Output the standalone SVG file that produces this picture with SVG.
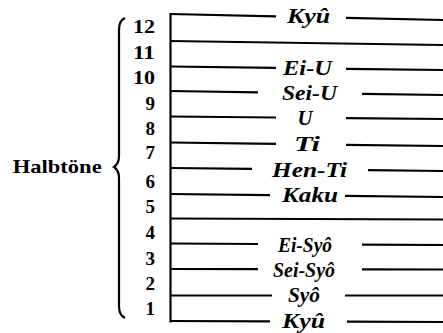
<svg xmlns="http://www.w3.org/2000/svg" width="443" height="333" viewBox="0 0 443 333">
<style>
.num{font-weight:bold;font-size:19px;fill:#000;text-anchor:end}
.lbl{font-weight:bold;font-style:italic;font-size:20px;fill:#000;text-anchor:middle}
.ttl{font-weight:bold;font-size:19px;fill:#000}
.ln{stroke:#000;stroke-width:2.2;fill:none}
</style>
<rect width="443" height="333" fill="#fff"/>
<g id="title" font-family="'Liberation Serif', 'Times New Roman', serif"><text class="ttl" x="12.7" y="173" textLength="89" lengthAdjust="spacingAndGlyphs">Halbtöne</text></g>
<g id="brace"><path class="ln" stroke-width="2" d="M125,18 C120,20 119,24 119,30 L119,156 C119,162 117,165 114,167 C117,169 119,172 119,178 L119,306 C119,312 120,316 125,318"/></g>
<g id="numbers" font-family="'Liberation Serif', 'Times New Roman', serif">
<text class="num" x="155" y="33" textLength="22" lengthAdjust="spacingAndGlyphs">12</text>
<text class="num" x="155" y="58.5" textLength="22" lengthAdjust="spacingAndGlyphs">11</text>
<text class="num" x="155" y="84" textLength="22" lengthAdjust="spacingAndGlyphs">10</text>
<text class="num" x="155" y="110">9</text>
<text class="num" x="155" y="135">8</text>
<text class="num" x="155" y="158.5">7</text>
<text class="num" x="155" y="188">6</text>
<text class="num" x="155" y="213">5</text>
<text class="num" x="155" y="238.5">4</text>
<text class="num" x="155" y="265">3</text>
<text class="num" x="155" y="290">2</text>
<text class="num" x="155" y="315">1</text>
</g>
<g id="connectors">
<line class="ln" x1="170.5" y1="13" x2="170.5" y2="322.5" stroke-width="2.5"/>
<line class="ln" x1="170" y1="14" x2="276" y2="16.3"/><line class="ln" x1="346" y1="17.9" x2="443" y2="20"/>
<line class="ln" x1="170" y1="41" x2="443" y2="45"/>
<line class="ln" x1="170" y1="66.5" x2="276" y2="67.9"/><line class="ln" x1="346" y1="68.8" x2="443" y2="70"/>
<line class="ln" x1="170" y1="91" x2="258" y2="92.3"/><line class="ln" x1="362" y1="93.8" x2="443" y2="95"/>
<line class="ln" x1="170" y1="116.5" x2="276" y2="117.5"/><line class="ln" x1="346" y1="118.1" x2="443" y2="119"/>
<line class="ln" x1="170" y1="142.5" x2="276" y2="143.9"/><line class="ln" x1="346" y1="144.8" x2="443" y2="146"/>
<line class="ln" x1="170" y1="168" x2="252" y2="168.9"/><line class="ln" x1="368" y1="170.2" x2="443" y2="171"/>
<line class="ln" x1="170" y1="194" x2="270" y2="195.1"/><line class="ln" x1="345" y1="195.9" x2="443" y2="197"/>
<line class="ln" x1="170" y1="218.5" x2="443" y2="219.5"/>
<line class="ln" x1="170" y1="243.5" x2="258" y2="244"/><line class="ln" x1="362" y1="244.6" x2="443" y2="245"/>
<line class="ln" x1="170" y1="269" x2="258" y2="269.2"/><line class="ln" x1="362" y1="269.4" x2="443" y2="269.5"/>
<line class="ln" x1="170" y1="295.5" x2="272" y2="295.5"/><line class="ln" x1="345" y1="295.5" x2="443" y2="295.5"/>
<line class="ln" x1="170" y1="321" x2="270" y2="321.4"/><line class="ln" x1="347" y1="321.6" x2="443" y2="322"/>
</g>
<g id="labels" font-family="'Liberation Serif', 'Times New Roman', serif">
<text class="lbl" x="308.5" y="23" textLength="43" lengthAdjust="spacingAndGlyphs">Kyû</text>
<text class="lbl" x="307.5" y="75" textLength="49" lengthAdjust="spacingAndGlyphs">Ei-U</text>
<text class="lbl" x="309.5" y="100" textLength="55" lengthAdjust="spacingAndGlyphs">Sei-U</text>
<text class="lbl" x="305" y="124.5" textLength="15" lengthAdjust="spacingAndGlyphs">U</text>
<text class="lbl" x="307" y="151" textLength="26" lengthAdjust="spacingAndGlyphs">Ti</text>
<text class="lbl" x="309.5" y="176.5" textLength="75" lengthAdjust="spacingAndGlyphs">Hen-Ti</text>
<text class="lbl" x="310" y="202" textLength="56" lengthAdjust="spacingAndGlyphs">Kaku</text>
<text class="lbl" x="305" y="251.5" textLength="54" lengthAdjust="spacingAndGlyphs">Ei-Syô</text>
<text class="lbl" x="304" y="276.5" textLength="62" lengthAdjust="spacingAndGlyphs">Sei-Syô</text>
<text class="lbl" x="304" y="302" textLength="32" lengthAdjust="spacingAndGlyphs">Syô</text>
<text class="lbl" x="303.5" y="328" textLength="43" lengthAdjust="spacingAndGlyphs">Kyû</text>
</g>
</svg>
